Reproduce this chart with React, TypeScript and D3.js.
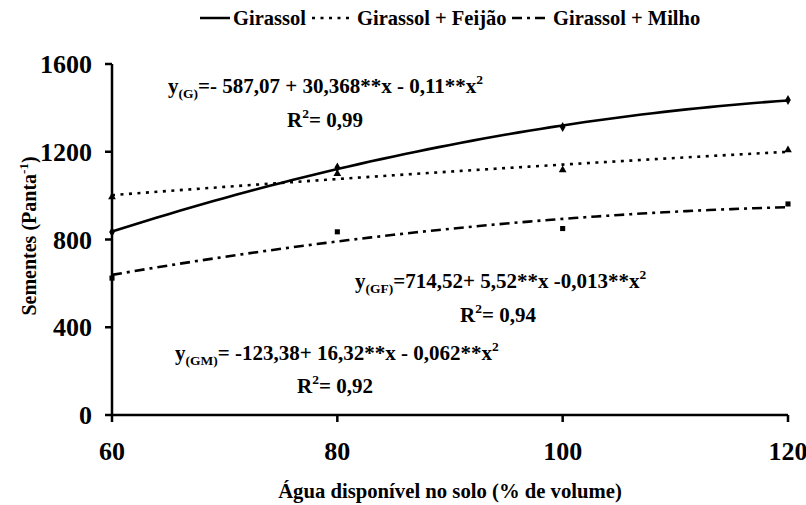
import React from "react";
import * as d3 from "d3";

const water = [60, 80, 100, 120];
const girassol = [834, 1128, 1313, 1436];
const feijao = [994, 1100, 1117, 1208];
const milho = [624, 835, 850, 962];
const xTicks = [60, 80, 100, 120];
const yTicks = [0, 400, 800, 1200, 1600];
const legendLabels = ["Girassol", "Girassol + Feijão", "Girassol + Milho"];

const W = 806, H = 505;
const FONT = "Liberation Serif, Times New Roman, Times, serif";

function quadFit(xs: number[], ys: number[]) {
  const n = xs.length;
  const s = [0, 0, 0, 0, 0], t = [0, 0, 0];
  for (let i = 0; i < n; i++) {
    const xv = xs[i], yv = ys[i];
    for (let k = 0; k < 5; k++) s[k] += Math.pow(xv, k);
    for (let k = 0; k < 3; k++) t[k] += yv * Math.pow(xv, k);
  }
  const M = [
    [s[0], s[1], s[2], t[0]],
    [s[1], s[2], s[3], t[1]],
    [s[2], s[3], s[4], t[2]],
  ];
  for (let i = 0; i < 3; i++) {
    let p = i;
    for (let r = i + 1; r < 3; r++) if (Math.abs(M[r][i]) > Math.abs(M[p][i])) p = r;
    [M[i], M[p]] = [M[p], M[i]];
    for (let r = 0; r < 3; r++) {
      if (r === i) continue;
      const f = M[r][i] / M[i][i];
      for (let c = i; c < 4; c++) M[r][c] -= f * M[i][c];
    }
  }
  const a = M[0][3] / M[0][0], b = M[1][3] / M[1][1], c = M[2][3] / M[2][2];
  return (xv: number) => a + b * xv + c * xv * xv;
}

export default function App() {
  const x = d3.scaleLinear().domain([60, 120]).range([112, 788]);
  const y = d3.scaleLinear().domain([0, 1600]).range([415, 64]);
  const samples = d3.range(60, 120.01, 1);
  const line = d3.line<[number, number]>().x(d => x(d[0])).y(d => y(d[1]));

  const series = [
    { vals: girassol, dash: undefined as string | undefined, sym: d3.symbolDiamond, size: 28 },
    { vals: feijao, dash: "3,5.5", sym: d3.symbolTriangle, size: 26 },
    { vals: milho, dash: "10,5,3,5", sym: d3.symbolSquare, size: 26 },
  ];

  const legendItems = [
    { x1: 200, x2: 230, tx: 233, dash: undefined as string | undefined },
    { x1: 312, x2: 354, tx: 357, dash: "3,5.5" },
    { x1: 512, x2: 550, tx: 553, dash: "10,5,3,5" },
  ];

  const bold = { style: { fontFamily: FONT, fontWeight: 700 }, fill: "#000" } as const;
  const EQ = 21, SUB = 13.5;

  return (
    <svg width={W} height={H} style={{ position: "absolute", left: 0, top: 0, background: "#fff" }}>
      {legendItems.map((l, i) => (
        <g key={i}>
          <line x1={l.x1} x2={l.x2} y1={18} y2={18} stroke="#000" strokeWidth={2.5} strokeDasharray={l.dash} />
          <text x={l.tx} y={25} fontSize={20.5} {...bold}>{legendLabels[i]}</text>
        </g>
      ))}

      {series.map((s, i) => {
        const f = quadFit(water, s.vals);
        const pts = samples.map(v => [v, f(v)] as [number, number]);
        return (
          <g key={i}>
            <path d={line(pts) || ""} fill="none" stroke="#000" strokeWidth={2.6} strokeDasharray={s.dash} />
            {water.map((w, j) => (
              <path key={j} d={d3.symbol(s.sym, s.size)() || ""} transform={`translate(${x(w)},${y(s.vals[j])})`} fill="#000" />
            ))}
          </g>
        );
      })}

      <line x1={x(60)} x2={x(60)} y1={y(1600)} y2={y(0)} stroke="#000" strokeWidth={2.5} />
      <line x1={x(60)} x2={x(120)} y1={y(0)} y2={y(0)} stroke="#000" strokeWidth={2.5} />
      {yTicks.map(t => (
        <g key={t}>
          <line x1={x(60) - 7} x2={x(60)} y1={y(t)} y2={y(t)} stroke="#000" strokeWidth={2.5} />
          <text x={92} y={y(t) + 9} textAnchor="end" fontSize={26} {...bold}>{t}</text>
        </g>
      ))}
      {xTicks.map(t => (
        <g key={t}>
          <line x1={x(t)} x2={x(t)} y1={y(0)} y2={y(0) + 7} stroke="#000" strokeWidth={2.5} />
          <text x={x(t)} y={460} textAnchor="middle" fontSize={26} {...bold}>{t}</text>
        </g>
      ))}

      <text x={450} y={498} textAnchor="middle" fontSize={20.7} {...bold}>Água disponível no solo (% de volume)</text>
      <text transform="translate(36,236) rotate(-90)" textAnchor="middle" fontSize={20} {...bold}>
        Sementes (Panta<tspan dy={-8} fontSize={13}>-1</tspan><tspan dy={8}>)</tspan>
      </text>

      <text x={168} y={93} fontSize={EQ} {...bold}>
        y<tspan dy={5} fontSize={SUB}>(G)</tspan><tspan dy={-5}>=- 587,07 + 30,368**x - 0,11**x</tspan><tspan dy={-9} fontSize={SUB}>2</tspan>
      </text>
      <text x={287} y={127} fontSize={EQ} {...bold}>
        R<tspan dy={-9} fontSize={SUB}>2</tspan><tspan dy={9}>= 0,99</tspan>
      </text>

      <text x={355} y={288} fontSize={EQ} {...bold}>
        y<tspan dy={5} fontSize={SUB}>(GF)</tspan><tspan dy={-5}>=714,52+ 5,52**x -0,013**x</tspan><tspan dy={-9} fontSize={SUB}>2</tspan>
      </text>
      <text x={460} y={322} fontSize={EQ} {...bold}>
        R<tspan dy={-9} fontSize={SUB}>2</tspan><tspan dy={9}>= 0,94</tspan>
      </text>

      <text x={175} y={360} fontSize={EQ} {...bold}>
        y<tspan dy={5} fontSize={SUB}>(GM)</tspan><tspan dy={-5}>= -123,38+ 16,32**x - 0,062**x</tspan><tspan dy={-9} fontSize={SUB}>2</tspan>
      </text>
      <text x={297} y={393} fontSize={EQ} {...bold}>
        R<tspan dy={-9} fontSize={SUB}>2</tspan><tspan dy={9}>= 0,92</tspan>
      </text>
    </svg>
  );
}
